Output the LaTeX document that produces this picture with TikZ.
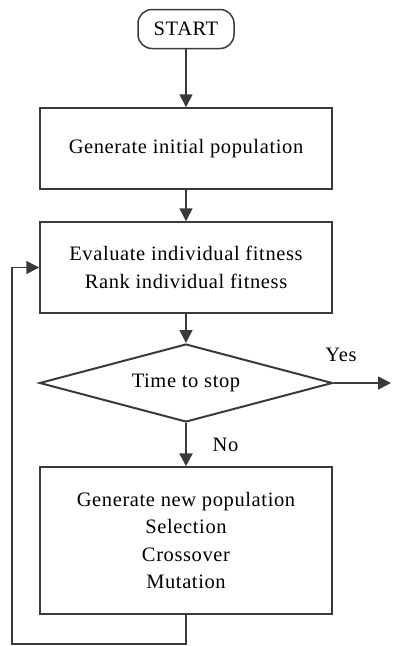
\documentclass[tikz,border=0pt]{standalone}
\usepackage{fontspec}
\setmainfont{Liberation Serif}[LetterSpace=3]
\usetikzlibrary{arrows.meta,shapes.geometric}
\definecolor{lncol}{RGB}{58,58,58}
\begin{document}
\begin{tikzpicture}[x=1pt,y=-1pt,
    every node/.style={font=\fontsize{20.5}{27.5}\selectfont,align=center},
    procbox/.style={draw=lncol,line width=1.5pt,minimum width=292pt,inner sep=0pt},
    flow/.style={draw=lncol,line width=1.6pt,-{Triangle[length=13pt,width=13pt]}}]
    \useasboundingbox (0,0) rectangle (395,646);
    \node[draw=lncol,line width=1.5pt,rounded corners=14pt,minimum width=96pt,
        minimum height=39pt,inner sep=0pt] (start) at (186,29) {START};
    \node[procbox,minimum height=81pt] (init) at (186,148.5) {Generate initial population};
    \node[procbox,minimum height=91pt] (eval) at (186,267.5)
        {Evaluate individual fitness\\Rank individual fitness};
    \node[draw=lncol,line width=2pt,shape=diamond,aspect=3.76,inner sep=0pt,
        minimum width=293pt,minimum height=78pt] (stop) at (186,383) {Time to stop};
    \node[procbox,minimum height=147pt] (newpop) at (186,540.5)
        {Generate new population\\Selection\\Crossover\\Mutation};
    \node (yes) at (341,355) {Yes};
    \coordinate (yesend) at (391,383);
    \coordinate (loopa) at (186,644);
    \coordinate (loopb) at (12,644);
    \coordinate (loopc) at (12,267.5);
    \draw[flow] (start) -- (init);
    \draw[flow] (init) -- (eval);
    \draw[flow] (eval) -- (stop);
    \draw[flow] (stop.east) -- (yesend);
    \draw[flow,line width=2.6pt] (stop) -- (newpop) node[midway,right=22pt] (no) {No};
    \draw[flow] (newpop.south) -- (loopa) -- (loopb) -- (loopc) -- (eval.west);
\end{tikzpicture}
\end{document}
